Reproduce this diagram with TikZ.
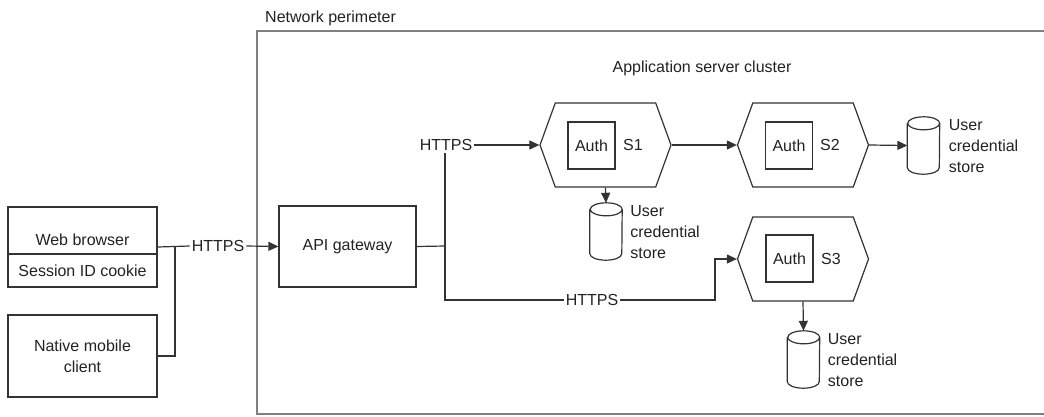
\documentclass[tikz,border=0pt]{standalone}
\usepackage{fontspec}
\setmainfont{Liberation Sans}
\usetikzlibrary{shapes.geometric,shapes.symbols,arrows.meta,calc}
\definecolor{ink}{HTML}{333333}
\definecolor{txtc}{HTML}{222222}
\definecolor{perim}{HTML}{808080}
\newcommand{\dbdraw}[1]{\draw[wire] ([yshift=-6.5pt]#1.north west) -- ([yshift=6.5pt]#1.south west) arc[start angle=180,end angle=360,x radius=16pt,y radius=6.5pt] -- ([yshift=-6.5pt]#1.north east) arc[start angle=0,end angle=180,x radius=16pt,y radius=6.5pt] arc[start angle=180,end angle=360,x radius=16pt,y radius=6.5pt];}
\begin{document}
\begin{tikzpicture}[x=1pt,y=-1pt,
 font=\fontsize{16}{21}\selectfont, text=txtc,
 box/.style={draw=ink, line width=1.2pt, inner sep=0pt, align=center},
 hexa/.style={signal, signal to=west and east, signal pointer angle=140, draw=ink, line width=1.2pt, minimum width=131pt, minimum height=84pt, inner sep=0pt},
 db/.style={rectangle, minimum width=32pt, minimum height=57pt, inner sep=0pt},
 wire/.style={draw=ink, line width=1.2pt},
 arr/.style={wire, -{Triangle[length=10pt,width=9pt]}},
 lbl/.style={inner sep=2pt},
 dbl/.style={align=left, anchor=west, inner sep=0pt}]
\useasboundingbox (0,0) rectangle (1044,416);
% network perimeter
\draw[perim, line width=1.5pt] (1044,31) -- (257,31) -- (257,414) -- (1044,414);
\node[anchor=west, inner sep=0pt] (netlbl) at (265,18) {Network perimeter};
\node[inner sep=0pt] (applbl) at (702,68) {Application server cluster};
% clients
\node[box, minimum width=149pt, minimum height=80pt] (browser) at (82.5,247) {};
\draw[wire] (browser.west |- 0,254) -- (browser.east |- 0,254);
\node[inner sep=0pt] (wbt) at (82.5,240) {Web browser};
\node[inner sep=0pt] (sidt) at (82.5,271) {Session ID cookie};
\node[box, minimum width=149pt, minimum height=82pt] (nm) at (82.5,356) {Native mobile\\client};
% gateway
\node[box, minimum width=137pt, minimum height=81pt] (api) at (347.5,246.5) {API gateway};
% labels
\node[lbl] (h1) at (218,246) {HTTPS};
\node[lbl] (h2) at (446,145) {HTTPS};
\node[lbl] (h3) at (592,300) {HTTPS};
\coordinate (jl) at (175,246);
\coordinate (j2) at (445,246);
\coordinate (j3) at (445,300);
\coordinate (j4) at (715,300);
% services
\node[hexa] (s1) at (605.5,145) {};
\node[box, minimum width=47pt, minimum height=47pt] (a1) at (591.5,145.5) {Auth};
\node[inner sep=0pt] (s1t) at (633,145) {S1};
\node[hexa] (s2) at (803,145) {};
\node[box, minimum width=47pt, minimum height=47pt] (a2) at (789,145.5) {Auth};
\node[inner sep=0pt] (s2t) at (830,145) {S2};
\node[hexa] (s3) at (803,259) {};
\node[box, minimum width=47pt, minimum height=47pt] (a3) at (789.5,258.5) {Auth};
\node[inner sep=0pt] (s3t) at (831,259) {S3};
% stores
\node[db] (c1) at (606,231.5) {};
\dbdraw{c1}
\node[dbl] (c1t) at ([xshift=8pt,yshift=-1pt]c1.east) {User\\credential\\store};
\node[db] (c2) at (923.5,145.5) {};
\dbdraw{c2}
\node[dbl] (c2t) at ([xshift=9pt,yshift=-0.5pt]c2.east) {User\\credential\\store};
\node[db] (c3) at (803.5,359.5) {};
\dbdraw{c3}
\node[dbl] (c3t) at ([xshift=8pt,yshift=-1pt]c3.east) {User\\credential\\store};
% connectors
\draw[wire] (browser.east) -- (h1.west);
\draw[wire] (nm.east) -| (jl);
\draw[arr] (h1.east) -- (api.west);
\draw[wire] (api.east) -- (j2);
\draw[wire] (h2.south -| j2) -- (j3) -- (h3.west);
\draw[arr] (h2.east) -- (s1.west);
\draw[arr] (h3.east) -- (j4) |- (s3.west);
\draw[arr] (s1.east) -- (s2.west);
\draw[arr] (s2.east) -- (c2.west);
\draw[arr] (s1.south) -- (c1.north);
\draw[arr] (s3.south) -- (c3.north);
\end{tikzpicture}
\end{document}
